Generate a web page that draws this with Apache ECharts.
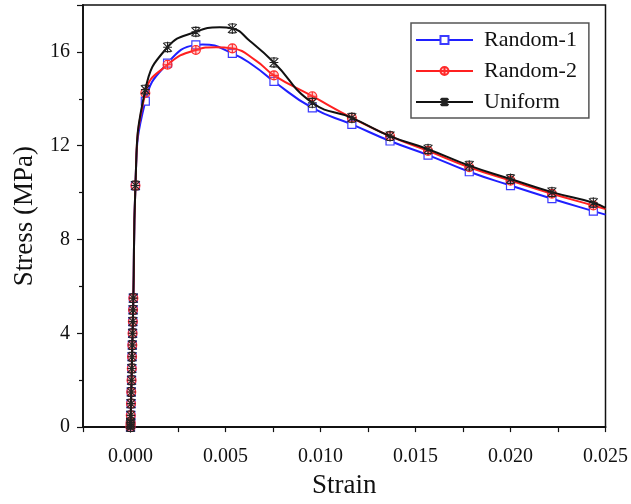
<!DOCTYPE html>
<html>
<head>
<meta charset="utf-8">
<script src="https://cdn.jsdelivr.net/npm/echarts@6/dist/echarts.min.js"></script>
<style>
html,body{margin:0;padding:0;background:#fff;}
#chart{width:631px;height:504px;}
</style>
</head>
<body>
<div id="chart"></div>
<script>
// Elastic (near-vertical) part, shared by all three curves
const elasticStrain = [0, 0.000003, 0.000006, 0.000014, 0.000027, 0.000041, 0.000055, 0.000068, 0.000082, 0.000095, 0.000109, 0.000123, 0.000136, 0.00015];
const elasticStress = [0, 0.1, 0.2, 0.5, 1, 1.5, 2, 2.5, 3, 3.5, 4, 4.5, 5, 5.5];
// Marker strains after the elastic part
const strain = [0.00026, 0.00078, 0.00195, 0.00344, 0.00536, 0.00755, 0.00957, 0.01165, 0.01366, 0.01566, 0.01783, 0.02, 0.02218, 0.02436];
const random1 = [10.3, 13.9, 15.52, 16.3, 15.94, 14.74, 13.61, 12.91, 12.2, 11.6, 10.89, 10.3, 9.74, 9.21];
const random2 = [10.3, 14.25, 15.45, 16.08, 16.15, 15.0, 14.11, 13.19, 12.41, 11.78, 11.08, 10.51, 9.95, 9.45];
const uniform = [10.3, 14.39, 16.2, 16.86, 17.0, 15.55, 13.83, 13.19, 12.41, 11.85, 11.15, 10.58, 10.02, 9.57];
// Extra curve points (no marker): [strain, stress]
const random1Curve = [[0.0038, 16.32], [0.0065, 15.4], [0.025, 9.06]];
const random2Curve = [[0.0045, 16.2], [0.0066, 15.63], [0.025, 9.3]];
const uniformCurve = [[0.0047, 17.05], [0.0063, 16.45], [0.025, 9.35]];
const seriesNames = ['Random-1', 'Random-2', 'Uniform'];
const xTickLabels = ['0.000', '0.005', '0.010', '0.015', '0.020', '0.025'];
const yTickLabels = ['0', '4', '8', '12', '16'];

function build(vals, extra) {
  const d = [];
  for (let i = 0; i < elasticStrain.length; i++) d.push({ value: [elasticStrain[i], elasticStress[i]] });
  for (let i = 0; i < strain.length; i++) d.push({ value: [strain[i], vals[i]] });
  for (let i = 0; i < extra.length; i++) d.push({ value: extra[i], symbol: 'none' });
  d.sort(function (a, b) { return a.value[0] - b.value[0]; });
  return d;
}

const font = 'Liberation Serif, Times New Roman, serif';
const chart = echarts.init(document.getElementById('chart'), null, { renderer: 'canvas' });

const circlePlus = 'path://M10,0A10,10,0,1,1,9.99,0ZM10,0L10,20M0,10L20,10';
const starSym = 'path://M2,2L18,18M18,2L2,18M10,0L10,20M2,10L18,10M4,2L16,2M4,18L16,18';

chart.setOption({
  animation: false,
  backgroundColor: '#fff',
  grid: { left: 83, right: 22, top: 5, bottom: 74, show: true, borderColor: '#111', borderWidth: 1.5, backgroundColor: 'transparent' },
  legend: {
    orient: 'vertical', left: 411, top: 23,
    itemWidth: 57, itemHeight: 10, itemGap: 9,
    padding: [6, 12, 5, 4],
    borderColor: '#555', borderWidth: 1.5,
    backgroundColor: '#fff',
    textStyle: { fontFamily: font, fontSize: 22, color: '#111', padding: [0, 0, 0, 6] },
    data: seriesNames
  },
  xAxis: {
    type: 'value', min: -0.0025, max: 0.025, interval: 0.0025,
    name: 'Strain', nameLocation: 'middle', nameGap: 44,
    nameTextStyle: { fontFamily: font, fontSize: 27, color: '#111' },
    axisLine: { onZero: false, lineStyle: { color: '#111', width: 1.8 } },
    axisTick: { show: true, length: 5, lineStyle: { color: '#111', width: 1.2 } },
    splitLine: { show: false },
    axisLabel: {
      fontFamily: font, fontSize: 20, color: '#111', margin: 20,
      formatter: function (v) {
        const s = v.toFixed(3);
        return xTickLabels.indexOf(s) >= 0 ? s : '';
      }
    }
  },
  yAxis: {
    type: 'value', min: 0, max: 18, interval: 4,
    name: 'Stress (MPa)', nameLocation: 'middle', nameGap: 45,
    nameTextStyle: { fontFamily: font, fontSize: 27, color: '#111' },
    axisLine: { show: true, onZero: false, lineStyle: { color: '#111', width: 1.8 } },
    axisTick: { show: true, length: 6, lineStyle: { color: '#111', width: 1.2 } },
    minorTick: { show: true, splitNumber: 2, length: 4, lineStyle: { color: '#111', width: 1.2 } },
    splitLine: { show: false },
    axisLabel: {
      fontFamily: font, fontSize: 20, color: '#111', margin: 13,
      formatter: function (v) {
        const s = String(v);
        return yTickLabels.indexOf(s) >= 0 ? s : '';
      }
    }
  },
  series: [
    {
      name: 'Random-1', type: 'line', data: build(random1, random1Curve),
      smooth: 0.5,
      symbol: 'rect', symbolSize: 8,
      lineStyle: { color: '#1f1fff', width: 2 },
      itemStyle: { color: '#ffffff', borderColor: '#3a3aff', borderWidth: 1.2 },
      z: 2
    },
    {
      name: 'Random-2', type: 'line', data: build(random2, random2Curve),
      smooth: 0.5,
      symbol: circlePlus, symbolSize: 9, symbolKeepAspect: true,
      lineStyle: { color: '#ff2020', width: 2 },
      itemStyle: { color: 'rgba(255,120,120,0.35)', borderColor: '#ff2a2a', borderWidth: 1.1 },
      z: 3
    },
    {
      name: 'Uniform', type: 'line', data: build(uniform, uniformCurve),
      smooth: 0.5,
      symbol: starSym, symbolSize: 11, symbolKeepAspect: true,
      lineStyle: { color: '#111', width: 2 },
      itemStyle: { color: 'rgba(0,0,0,0)', borderColor: '#222', borderWidth: 1.1 },
      z: 4
    }
  ]
});
</script>
</body>
</html>
